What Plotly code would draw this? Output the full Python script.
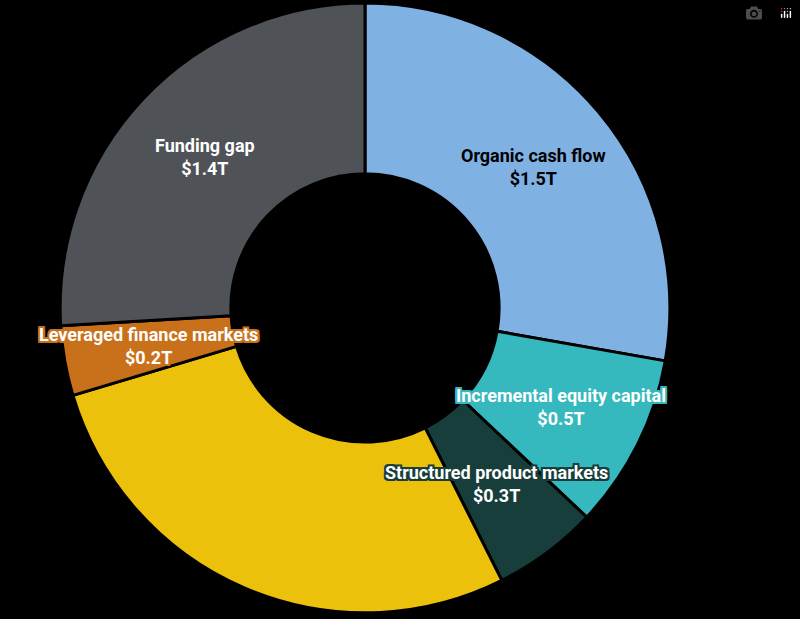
import math
import plotly.graph_objects as go

labels = ["Organic cash flow", "Incremental equity capital", "Structured product markets",
          "Other", "Leveraged finance markets", "Funding gap"]
values = [1.5, 0.5, 0.3, 1.5, 0.2, 1.4]
value_text = ["$1.5T", "$0.5T", "$0.3T", "", "$0.2T", "$1.4T"]
show_label = [True, True, True, False, True, True]
colors = ["#7fb2e3", "#36b8bf", "#173e3b", "#ecc10c", "#c9711a", "#4f5256"]
text_colors = ["#000000", "#ffffff", "#ffffff", "#ffffff", "#ffffff", "#ffffff"]

W, H = 800, 619
dx0, dx1, dy0, dy1 = 0.075, 0.8375, 0.01, 0.995
cx = (dx0 + dx1) / 2 * W
cy = (1 - (dy0 + dy1) / 2) * H
R = (dx1 - dx0) * W / 2

fig = go.Figure(go.Pie(
    labels=labels, values=values, sort=False, direction="clockwise", rotation=0,
    hole=0.44, textinfo="none", hoverinfo="label+value",
    marker=dict(colors=colors, line=dict(color="#000000", width=3)),
    domain=dict(x=[dx0, dx1], y=[dy0, dy1]), showlegend=False,
))

total = sum(values)
cum = 0
for lab, v, t, show, c, tc in zip(labels, values, value_text, show_label, colors, text_colors):
    mid = (cum + v / 2) / total * 2 * math.pi
    cum += v
    if not show:
        continue
    r = 0.72 * R
    px = cx + r * math.sin(mid)
    py = cy - r * math.cos(mid)
    sh = ", ".join(f"{a}px {b}px 0 {c}" for a in (-2, 0, 2) for b in (-2, 0, 2) if a or b)
    fig.add_annotation(x=px / W, y=1 - py / H, xref="paper", yref="paper",
                       xanchor="center", yanchor="middle",
                       text=f"<b>{lab}</b><br><b>{t}</b>", showarrow=False,
                       font=dict(family="Roboto", size=18, color=tc, shadow=sh),
                       align="center")

fig.update_layout(width=W, height=H, margin=dict(l=0, r=0, t=0, b=0),
                  paper_bgcolor="#000000", plot_bgcolor="#000000")
fig.write_html("out.html",
               post_script="document.body.style.margin='0';document.body.style.background='#000';")
